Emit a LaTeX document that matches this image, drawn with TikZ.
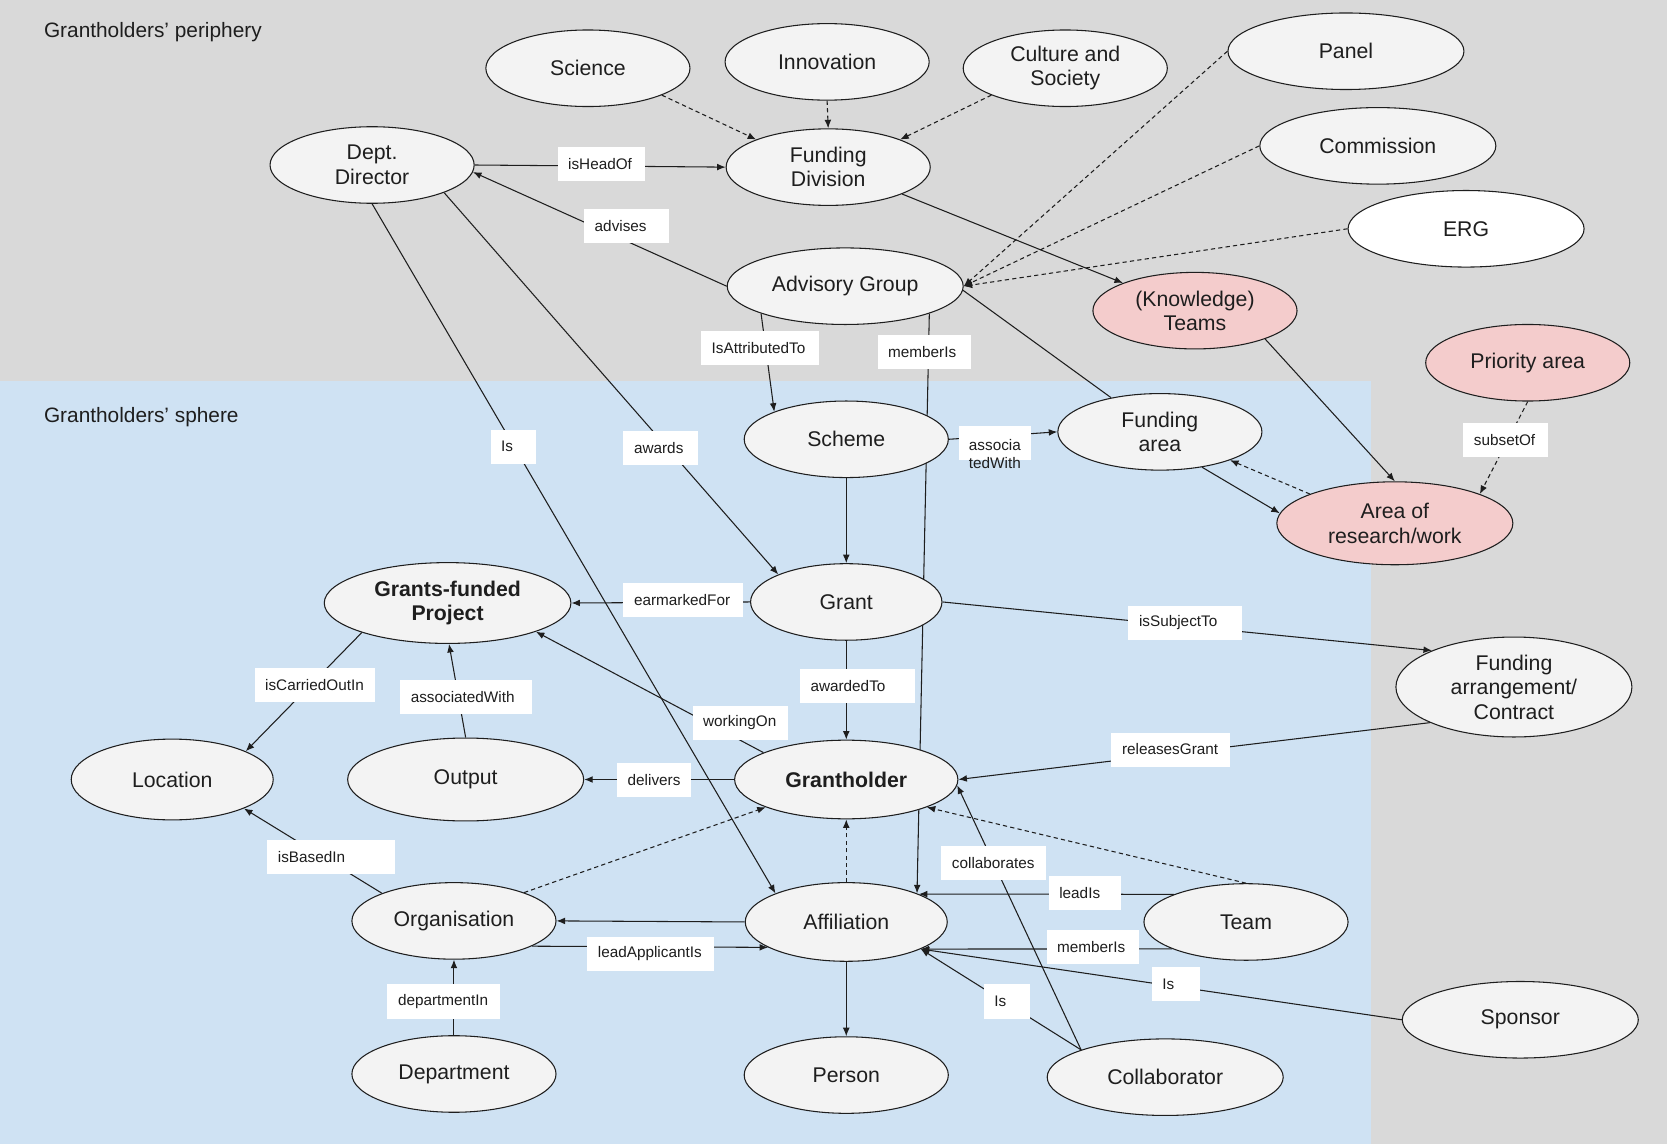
\documentclass[tikz,border=0pt]{standalone}
\usepackage{fontspec}
\setmainfont{Liberation Sans}
\usetikzlibrary{shapes.geometric,arrows.meta}
\pgfdeclarelayer{bg}
\pgfdeclarelayer{edges}
\pgfsetlayers{bg,edges,main}
\definecolor{bggray}{HTML}{D9D9D9}
\definecolor{bgblue}{HTML}{CFE2F3}
\definecolor{nodefill}{HTML}{F3F3F3}
\definecolor{pinkf}{HTML}{F4CCCC}
\definecolor{txt}{HTML}{1E1E1E}
\definecolor{linec}{HTML}{1E1E1E}
\begin{document}
\begin{tikzpicture}[x=0.5pt,y=-0.5pt,
  ent/.style={ellipse, draw=linec, line width=0.5pt, fill=nodefill, inner sep=0pt, align=center, text=txt,
    font=\fontsize{10}{11.5}\selectfont, minimum width=96pt, minimum height=36pt, yshift=-0.6pt},
  entb/.style={ent, font=\fontsize{10}{11.5}\selectfont\bfseries},
  pinkent/.style={ent, fill=pinkf},
  lab/.style={fill=white, inner xsep=5pt, inner ysep=0pt, minimum height=16pt, align=left, anchor=west,
    text=txt, font=\fontsize{7.2}{8.5}\selectfont},
  rel/.style={draw=linec, line width=0.5pt, -{Latex[length=4pt,width=3.2pt]}},
  plain/.style={draw=linec, line width=0.5pt},
  dsh/.style={dash pattern=on 2pt off 1.5pt},
  heading/.style={anchor=west, text=txt, inner sep=0pt, font=\fontsize{9.8}{12}\selectfont}
]
\useasboundingbox (0,0) rectangle (1568,1076);
\begin{pgfonlayer}{bg}
\fill[bggray] (0,0) rectangle (1568,1076);
\fill[bgblue] (0,358) rectangle (1290,1076);
\end{pgfonlayer}

\node[heading] (hperi) at (41,30) {Grantholders’ periphery};
\node[heading] (hsph) at (41,392) {Grantholders’ sphere};

% entities
\node[ent] (sci) at (553,63) {Science};
\node[ent] (inn) at (778,57) {Innovation};
\node[ent] (cul) at (1002,63) {Culture and\\Society};
\node[ent, minimum width=111pt] (pan) at (1266,47) {Panel};
\node[ent, minimum width=111pt] (com) at (1296,136) {Commission};
\node[ent, minimum width=111pt, fill=white] (erg) at (1379,214) {ERG};
\node[ent] (dd) at (350,154) {Dept.\\Director};
\node[ent] (fd) at (779,156) {Funding\\Division};
\node[ent, minimum width=111pt] (ag) at (795,268) {Advisory Group};
\node[pinkent] (kt) at (1124,291) {(Knowledge)\\Teams};
\node[pinkent] (pri) at (1437,340) {Priority area};
\node[ent] (sch) at (796,412) {Scheme};
\node[ent] (fa) at (1091,405) {Funding\\area};
\node[pinkent, minimum width=111pt, minimum height=39pt] (aor) at (1312,491) {Area of\\research/work};
\node[entb, minimum width=116pt, minimum height=38pt] (gfp) at (421,566) {Grants-funded\\Project};
\node[ent, minimum width=90pt] (gr) at (796,565) {Grant};
\node[ent, minimum width=111pt, minimum height=47pt] (farr) at (1424,645) {Funding\\arrangement/\\Contract};
\node[ent, minimum width=95pt, minimum height=38pt] (loc) at (162,732) {Location};
\node[ent, minimum width=111pt, minimum height=39pt] (out) at (438,732) {Output};
\node[entb, minimum width=105pt, minimum height=37pt] (gh) at (796,732) {Grantholder};
\node[ent] (org) at (427,865) {Organisation};
\node[ent, minimum width=95pt, minimum height=37pt] (aff) at (796,866) {Affiliation};
\node[ent] (team) at (1172,866) {Team};
\node[ent, minimum width=111pt] (spo) at (1430,958) {Sponsor};
\node[ent] (dep) at (427,1009) {Department};
\node[ent] (per) at (796,1010) {Person};
\node[ent, minimum width=111pt] (col) at (1096,1012) {Collaborator};

% labels
\node[lab, text width=31pt] (lhead) at (524,154) {isHeadOf};
\node[lab, text width=30pt] (ladv) at (549,213) {advises};
\node[lab, text width=45.5pt] (lattr) at (659,327) {IsAttributedTo};
\node[lab, text width=34pt] (lmem1) at (825,331) {memberIs};
\node[lab, text width=11.5pt] (lis1) at (461,420) {Is};
\node[lab, text width=25pt] (lawd) at (586,421) {awards};
\node[fill=white, inner sep=0pt, minimum width=34pt, minimum height=16pt] (lassoc1) at (936,417) {};
\node[anchor=west, align=left, inner sep=0pt, text=txt, font=\fontsize{7.2}{8.5}\selectfont] (lassoc1t) at (911,427) {associa\\tedWith};
\node[lab, text width=30pt] (lsub) at (1376,414) {subsetOf};
\node[lab, text width=46pt] (lear) at (586,564) {earmarkedFor};
\node[lab, text width=43.5pt] (lsubj) at (1061,586) {isSubjectTo};
\node[lab, text width=46.5pt] (lcarr) at (239,644) {isCarriedOutIn};
\node[lab, text width=52pt] (lassoc2) at (376,656) {associatedWith};
\node[lab, text width=44pt] (lawdto) at (752,645) {awardedTo};
\node[lab, text width=35pt] (lwork) at (651,680) {workingOn};
\node[lab, text width=46pt] (lrel) at (1045,705) {releasesGrant};
\node[lab, text width=25pt] (ldel) at (580,734) {delivers};
\node[lab, text width=50pt] (lbased) at (251,806) {isBasedIn};
\node[lab, text width=39pt] (lcoll) at (885,812) {collaborates};
\node[lab, text width=24pt] (llead) at (986,840) {leadIs};
\node[lab, text width=33.5pt] (lmem2) at (984,891) {memberIs};
\node[lab, text width=49.5pt] (llapp) at (552,897) {leadApplicantIs};
\node[lab, text width=12.5pt] (lis2) at (1083,926) {Is};
\node[lab, text width=43pt] (ldept) at (364,942) {departmentIn};
\node[lab, text width=11.5pt] (lis3) at (925,942) {Is};

% connectors
\begin{pgfonlayer}{edges}
\draw[rel, dsh] (sci.-20) -- (fd.159);
\draw[rel, dsh] (inn.south) -- (fd.north);
\draw[rel, dsh] (cul.-160) -- (fd.21);
\draw[rel] (dd.east) -- (fd.west);
\draw[rel] (ag.west) -- (dd.-4);
\draw[rel] (fd.-20) -- (kt.159);
\draw[rel, dsh] (pan.west) -- (ag.east);
\draw[rel, dsh] (com.west) -- (ag.east);
\draw[rel, dsh] (erg.west) -- (ag.east);
\draw[plain] (ag.-2) -- (fa.145);
\draw[rel] (ag.-162) -- (sch.159);
\draw[rel] (ag.-18) -- (aff.22);
\draw[rel] (dd.south) -- (aff.158);
\draw[rel] (dd.-21) -- (gr.158);
\draw[rel] (sch.east) -- (fa.west);
\draw[rel] (sch.south) -- (gr.north);
\draw[rel] (fa.-40) -- (aor.175);
\draw[rel, dsh] (aor.161) -- (fa.-22);
\draw[rel] (kt.-22) -- (aor.north);
\draw[rel, dsh] (pri.south) -- (aor.19);
\draw[rel] (gr.west) -- (gfp.east);
\draw[rel] (gr.east) -- (farr.156);
\draw[rel] (gr.south) -- (gh.north);
\draw[rel] (gh.162) -- (gfp.-18);
\draw[rel] (gfp.-161) -- (loc.21);
\draw[rel] (out.north) -- (gfp.-88);
\draw[rel] (gh.west) -- (out.east);
\draw[rel] (farr.-157) -- (gh.east);
\draw[rel] (org.159) -- (loc.-22);
\draw[rel, dsh] (org.22) -- (gh.-161);
\draw[rel, dsh] (aff.north) -- (gh.south);
\draw[rel, dsh] (team.north) -- (gh.-19);
\draw[rel] (aff.west) -- (org.east);
\draw[rel] (org.-18) -- (aff.198);
\draw[rel] (dep.north) -- (org.south);
\draw[rel] (aff.south) -- (per.north);
\draw[rel] (team.159) -- (aff.21);
\draw[rel] (team.200) -- (aff.-20);
\draw[rel] (spo.west) -- (aff.-20);
\draw[rel] (col.162) -- (aff.-20);
\draw[rel] (col.162) -- (gh.-3);
\end{pgfonlayer}
\end{tikzpicture}
\end{document}
